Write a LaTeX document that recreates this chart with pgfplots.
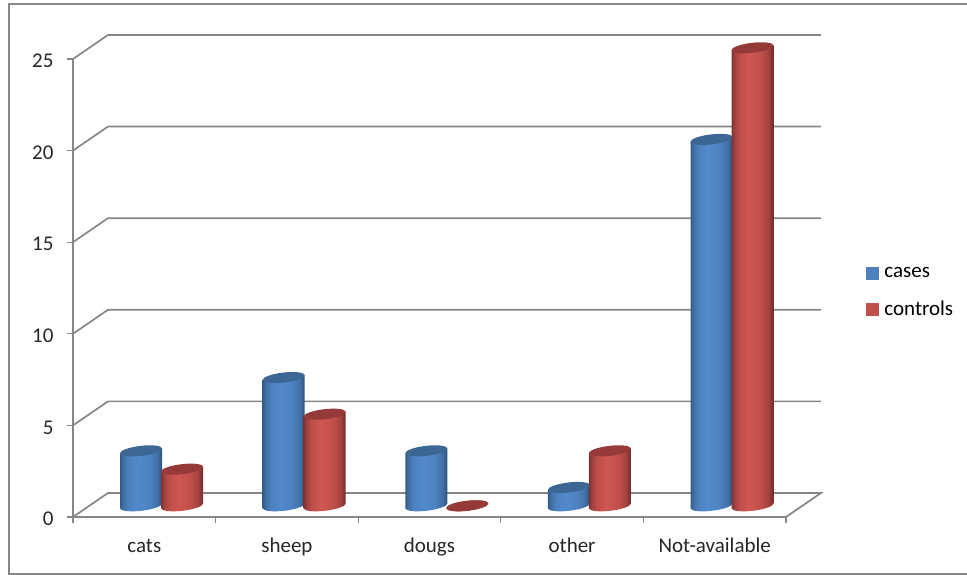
\documentclass[border=0pt]{standalone}
\usepackage{pgfplots}
\pgfplotsset{compat=1.18}
\usepackage{fontspec}
\setmainfont{Carlito}
\definecolor{wallgray}{HTML}{868686}
\definecolor{capblue}{HTML}{3C6795}
\definecolor{capred}{HTML}{953A38}
\definecolor{keyblue}{HTML}{4F81BD}
\definecolor{keyred}{HTML}{C0504D}
\definecolor{labelgray}{HTML}{262626}
% Horizontal gradients that give the cylinders their round look
\pgfdeclarehorizontalshading{cylblue}{100bp}{
  rgb(0bp)=(0.20,0.36,0.54);
  rgb(25bp)=(0.20,0.36,0.54);
  rgb(29bp)=(0.26,0.44,0.66);
  rgb(35bp)=(0.30,0.51,0.75);
  rgb(46bp)=(0.32,0.54,0.80);
  rgb(60bp)=(0.30,0.51,0.75);
  rgb(69bp)=(0.26,0.44,0.66);
  rgb(75bp)=(0.18,0.32,0.48);
  rgb(100bp)=(0.18,0.32,0.48)}
\pgfdeclarehorizontalshading{cylred}{100bp}{
  rgb(0bp)=(0.50,0.20,0.19);
  rgb(25bp)=(0.50,0.20,0.19);
  rgb(29bp)=(0.64,0.26,0.25);
  rgb(35bp)=(0.75,0.31,0.29);
  rgb(46bp)=(0.81,0.34,0.32);
  rgb(60bp)=(0.75,0.31,0.29);
  rgb(69bp)=(0.64,0.26,0.25);
  rgb(75bp)=(0.44,0.17,0.16);
  rgb(100bp)=(0.44,0.17,0.16)}
% One cylinder per data point: #1 shading, #2 cap colour, #3 horizontal offset.
% The origin sits at the data point, so the base lies one bar height below it.
\pgfplotsset{
  cylinder series/.style n args={3}{
    scatter, only marks, mark=*, mark size=0pt, draw=none, fill=none,
    visualization depends on={rawy \as \barvalue},
    scatter/@pre marker code/.code={
      \pgfmathsetmacro\barheight{\barvalue*18.32}
      \pgfmathsetmacro\xleft{#3-21}
      \pgfmathsetmacro\xright{#3+21}
      \pgfmathsetmacro\ybase{11.2-\barheight}
      \path[shading=#1] (#3pt,\ybase pt) ellipse[x radius=21.144pt,y radius=5pt,rotate=6.7];
      \ifdim\barheight pt>0pt
        \path[shading=#1]
          (\xleft pt,8.73pt) -- (\xleft pt,\ybase pt-2.47pt)
          -- (\xright pt,\ybase pt+2.47pt) -- (\xright pt,13.67pt) -- cycle;
      \fi
      \fill[#2] (#3pt,11.2pt) ellipse[x radius=21.144pt,y radius=5pt,rotate=6.7];
    },
    scatter/@post marker code/.code={},
  },
}
\begin{document}
\begin{tikzpicture}[x=1pt,y=1pt]
\useasboundingbox (0,0) rectangle (967,575);
\draw[color=wallgray,line width=1.5pt] (968,1) -- (9,1) -- (9,571) -- (968,571);
\begin{axis}[
  at={(73pt,58pt)}, anchor=south west,
  scale only axis, width=713pt, height=458pt,
  xmin=0.5, xmax=5.5, ymin=0, ymax=25,
  clip=false,
  axis y line=left, axis x line=bottom,
  axis line style={color=wallgray,line width=1.5pt,-},
  xtick={0.5,1.5,2.5,3.5,4.5,5.5},
  x tick label as interval,
  xticklabels={cats,sheep,dougs,other,Not-available},
  ytick={0,5,10,15,20,25},
  tick style={color=wallgray,line width=1.2pt},
  tick align=outside,
  major tick length=6pt,
  tick pos=left,
  ticklabel style={font=\fontsize{21}{24}\selectfont,text=labelgray},
  /pgf/number format/assume math mode=true,
  x tick label style={text height=14pt,text depth=4pt,yshift=-12pt},
  y tick label style={xshift=-10pt,yshift=-2pt},
  legend style={
    at={(axis cs:6.06,13.76)}, anchor=north west,
    draw=none, fill=none, font=\fontsize{21}{24}\selectfont,
    row sep=18pt, inner sep=0pt,
    /tikz/every odd column/.append style={column sep=4pt},
  },
  legend cell align=left,
]
% Side wall, floor and back-wall lines of the chart box
\addplot[color=wallgray,line width=1.7pt,unbounded coords=jump,forget plot] table {
x y
0.5 0
0.745 1.31
5.745 1.31
5.5 0
nan nan
0.5 5
0.745 6.31
5.745 6.31
nan nan
0.5 10
0.745 11.31
5.745 11.31
nan nan
0.5 15
0.745 16.31
5.745 16.31
nan nan
0.5 20
0.745 21.31
5.745 21.31
nan nan
0.5 25
0.745 26.31
5.745 26.31
};
\addlegendimage{legend image code/.code={\fill[keyblue] (0pt,-6pt) rectangle (12pt,6pt);}}
\addlegendentry{cases}
\addlegendimage{legend image code/.code={\fill[keyred] (0pt,-6pt) rectangle (12pt,6pt);}}
\addlegendentry{controls}
\addplot[cylinder series={cylblue}{capblue}{-3.2},forget plot] coordinates {
 (1,3) (2,7) (3,3) (4,1) (5,20)};
\addplot[cylinder series={cylred}{capred}{37.8},forget plot] coordinates {
 (1,2) (2,5) (3,0) (4,3) (5,25)};
\end{axis}
\end{tikzpicture}
\end{document}
